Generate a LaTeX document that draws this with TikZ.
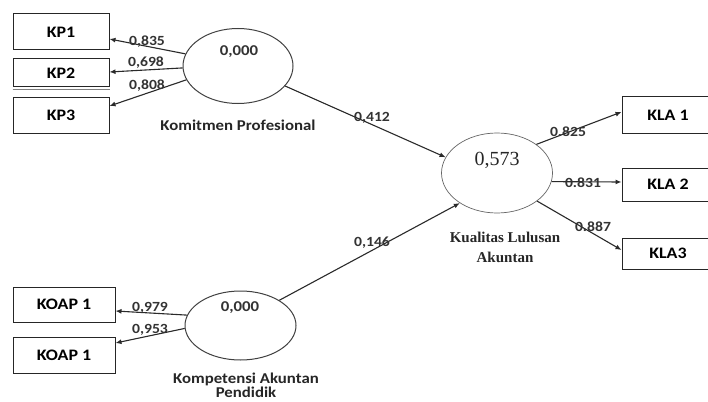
\documentclass[tikz,border=0pt]{standalone}
\usepackage{fontspec}
\newfontfamily\calf[FakeStretch=1.12]{Carlito}
\newfontfamily\tnr{Liberation Serif}
\usetikzlibrary{arrows.meta,shapes.geometric}
\definecolor{ln}{HTML}{2A2A2A}
\begin{document}
\begin{tikzpicture}[x=1pt,y=-1pt,
  box/.style={draw=black!85,line width=1pt,minimum height=35pt,inner sep=0pt,font=\calf\bfseries\fontsize{16}{18}\selectfont},
  lv/.style={ellipse,draw=black!75,line width=1pt,inner sep=0pt},
  arr/.style={draw=ln,line width=1.1pt,-{Latex[length=6pt,width=5pt]}},
  el/.style={font=\calf\bfseries\fontsize{14}{16}\selectfont,text=black!80,inner sep=0pt},
  lvcap/.style={font=\calf\bfseries\fontsize{15}{17}\selectfont,text=black!85,inner sep=0pt},
  capser/.style={font=\tnr\bfseries\fontsize{15}{20}\selectfont,text=black!85,inner sep=0pt,align=center}]
\useasboundingbox[fill=white] (0,0) rectangle (708,401);
% indicator boxes
\node[box,minimum width=96pt,minimum height=36pt] (kp1) at (61,32) {KP1};
\node[box,minimum width=96pt,minimum height=28pt] (kp2) at (61,73) {KP2};
\node[box,minimum width=96pt,minimum height=35pt] (kp3) at (61,115.5) {KP3};
\node[box,minimum width=102pt,minimum height=35pt] (koap1) at (64,304.5) {KOAP 1};
\node[box,minimum width=102pt,minimum height=36pt] (koap2) at (64,355) {KOAP 1};
\node[box,minimum width=92pt,minimum height=36pt] (kla1) at (668,115) {KLA 1};
\node[box,minimum width=92pt,minimum height=33pt] (kla2) at (668,184.5) {KLA 2};
\node[box,minimum width=92pt,minimum height=31pt] (kla3) at (668,253.5) {KLA3};
\draw[black!50,line width=0.8pt] ([yshift=-2]kp2.south west) -- ([yshift=-2]kp2.south east);
% latent variables
\node[lv,minimum width=110pt,minimum height=75pt] (kp) at (238,66) {};
\node[lv,minimum width=111pt,minimum height=69pt] (koap) at (240.5,325.5) {};
\node[lv,draw=black!60,line width=0.7pt,minimum width=111pt,minimum height=80pt] (kla) at (497,173) {};
\node[el,font=\calf\bfseries\fontsize{15}{17}\selectfont] (kpv) at (239,52) {0,000};
\node[el,font=\calf\bfseries\fontsize{15}{17}\selectfont] (koapv) at (240,308) {0,000};
\node[inner sep=0pt,font=\tnr\fontsize{20}{22}\selectfont,text=black!85] (klav) at (497,160) {0,573};
\node[lvcap] (kpc) at (238,125) {Komitmen Profesional};
\node[lvcap,align=center] (koapc) at (246,385) {Kompetensi Akuntan\\[-3pt]Pendidik};
\node[capser] (klac) at (505,247) {Kualitas Lulusan\\Akuntan};
% outer loadings
\draw[arr] (kp.167) -- ([yshift=-7]kp1.east);
\draw[arr] (kp.182) -- ([yshift=1]kp2.east);
\draw[arr] (kp.195) -- ([yshift=9.5]kp3.east);
\draw[arr] (koap.169) -- ([yshift=-6.5]koap1.east);
\draw[arr] (koap.183) -- ([yshift=12]koap2.east);
\draw[arr] (kla.36) -- ([yshift=3]kla1.west);
\draw[arr] (kla.-9) -- ([yshift=2.5]kla2.west);
\draw[arr] (kla.-35) -- ([yshift=3.5]kla3.west);
% inner paths
\draw[arr] (kp.-23) -- (kla.163);
\draw[arr] (koap.33) -- (kla.219);
% loadings labels
\node[el] (l1) at (147,42) {0,835};
\node[el] (l2) at (146,63) {0,698};
\node[el] (l3) at (147,86) {0,808};
\node[el] (l4) at (150,308) {0,979};
\node[el] (l5) at (150,330) {0,953};
\node[el] (l6) at (568,132) {0.825};
\node[el] (l7) at (583,183) {0.831};
\node[el] (l8) at (593,227) {0.887};
\node[el] (l9) at (372,118) {0,412};
\node[el] (l10) at (372,243) {0,146};
\end{tikzpicture}
\end{document}
